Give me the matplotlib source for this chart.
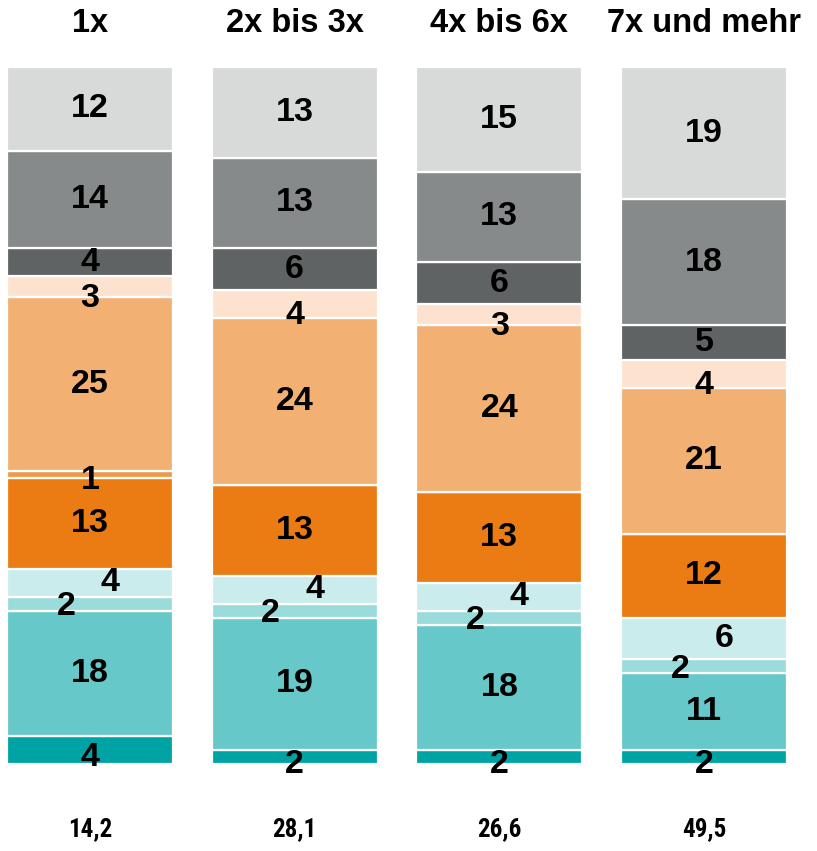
import matplotlib.pyplot as plt
from matplotlib.transforms import blended_transform_factory, offset_copy

groups = ["1x", "2x bis 3x", "4x bis 6x", "7x und mehr"]
totals = ["14,2", "28,1", "26,6", "49,5"]

# segments from bottom to top
teal_dark = [4, 2, 2, 2]
teal_mid = [18, 19, 18, 11]
teal_soft = [2, 2, 2, 2]
cyan_light = [4, 4, 4, 6]
orange_dark = [13, 13, 13, 12]
orange_mid = [1, 0, 0, 0]
orange_sand = [25, 24, 24, 21]
peach = [3, 4, 3, 4]
gray_dark = [4, 6, 6, 5]
gray_mid = [14, 13, 13, 18]
gray_light = [12, 13, 15, 19]

layers = [teal_dark, teal_mid, teal_soft, cyan_light, orange_dark, orange_mid,
          orange_sand, peach, gray_dark, gray_mid, gray_light]
colors = ["#00a3a3", "#66c8c9", "#9adcdc", "#cbecec", "#eb7c14", "#ef9a4b",
          "#f2b173", "#fde3cf", "#5f6363", "#878a8a", "#d8d9d9"]
# label offsets in pixels (dx, dy) for the thin segments
offsets = [(0, -7), (0, 0), (-24, -3), (20, 0), (0, 0), (0, -6),
           (0, 0), (0, -12), (0, 0), (0, 0), (0, 0)]

fig = plt.figure(figsize=(8.17, 8.51), dpi=100)
ax = fig.add_axes([7 / 817, 1 - 764 / 851, 780 / 817, 697 / 851])

x = range(len(groups))
bottom = [0] * len(groups)
for vals, col, (dx, dy) in zip(layers, colors, offsets):
    ax.bar(x, vals, width=0.81, bottom=bottom, color=col,
           edgecolor="white", linewidth=1.6)
    tr = offset_copy(ax.transData, fig=fig, x=dx, y=dy, units="dots")
    for i, v in enumerate(vals):
        if v > 0:
            ax.text(i, bottom[i] + v / 2, str(v), transform=tr,
                    ha="center", va="center", fontsize=24.5,
                    fontweight="bold", family="Liberation Sans")
    bottom = [b + v for b, v in zip(bottom, vals)]

ax.set_xlim(-0.405, 3.405)
ax.set_ylim(0, 100)
ax.axis("off")

trans = blended_transform_factory(ax.transData, ax.transAxes)
for i, (g, t) in enumerate(zip(groups, totals)):
    ax.text(i, 1.062, g, transform=trans, ha="center", va="center",
            fontsize=23.5, fontweight="bold", family="Liberation Sans")
    ax.text(i, -0.094, t, transform=trans, ha="center", va="center",
            fontsize=18, fontweight="bold",
            family=["Roboto Condensed", "Liberation Sans"])

fig.savefig("out.png", dpi=100)
